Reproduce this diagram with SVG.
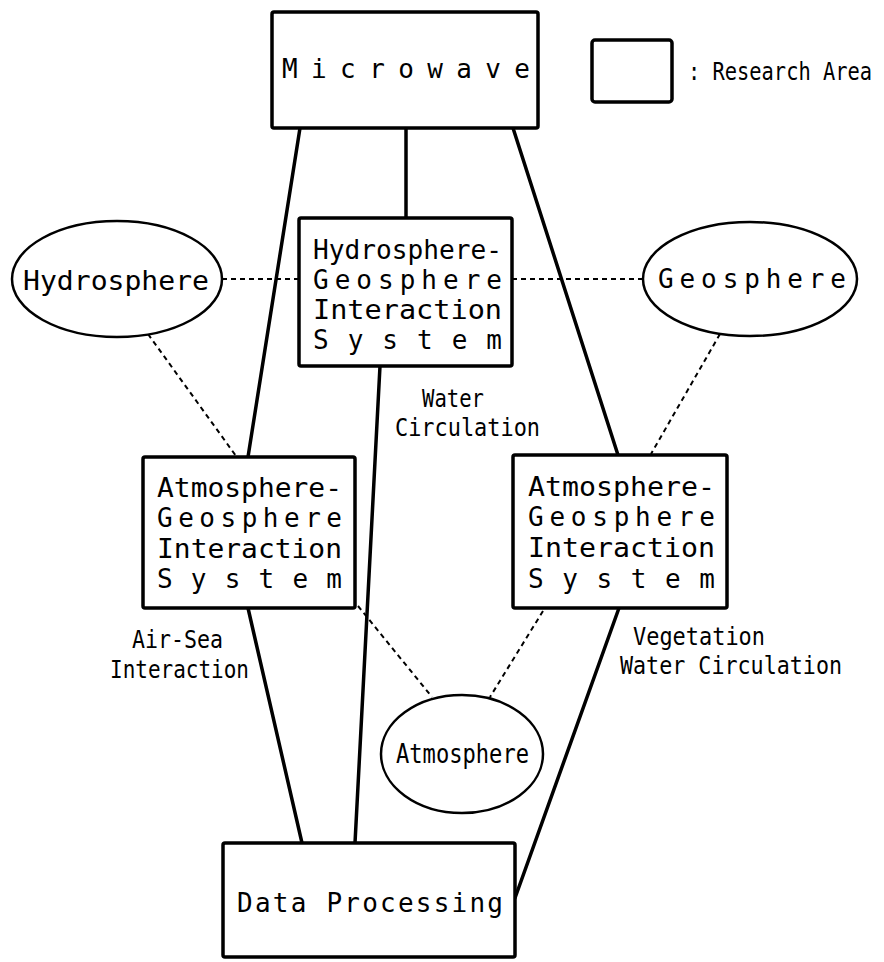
<svg xmlns="http://www.w3.org/2000/svg" width="884" height="962" viewBox="0 0 884 962">
<style>
.box{fill:#fff;stroke:#000;stroke-width:3.5;stroke-linejoin:round}
.ell{fill:#fff;stroke:#000;stroke-width:2.5}
.solid{stroke:#000;stroke-width:3.5;fill:none;stroke-linecap:round}
.dot{stroke:#000;stroke-width:2;fill:none;stroke-dasharray:5 4}
text{font-family:"DejaVu Sans Mono","Liberation Mono",monospace;font-size:26px;fill:#000}
.lbl{font-size:25px}
</style>
<rect width="884" height="962" fill="#fff"/>
<g id="connectors">
<line class="solid" x1="406" y1="128" x2="406" y2="218"/>
<line class="solid" x1="300" y1="128" x2="248" y2="457"/>
<line class="solid" x1="513" y1="128" x2="618" y2="455"/>
<line class="solid" x1="380" y1="366" x2="355" y2="843"/>
<line class="solid" x1="248" y1="608" x2="302" y2="843"/>
<line class="solid" x1="619" y1="608" x2="515" y2="898"/>
<line class="dot" x1="222" y1="279" x2="299" y2="279"/>
<line class="dot" x1="512" y1="279" x2="643" y2="279"/>
<line class="dot" x1="148" y1="334" x2="236" y2="456"/>
<line class="dot" x1="720" y1="334" x2="651" y2="454"/>
<line class="dot" x1="358" y1="606" x2="432" y2="697"/>
<line class="dot" x1="543" y1="611" x2="490" y2="697"/>
</g>
<g id="microwave">
<rect class="box" x="272" y="12" width="266" height="116" rx="2"/>
<text x="282" y="78" textLength="248" lengthAdjust="spacing">Microwave</text>
</g>
<g id="legend">
<rect class="box" x="592" y="40" width="80" height="62" rx="3"/>
<text class="lbl" x="688" y="80" textLength="184" lengthAdjust="spacingAndGlyphs">: Research Area</text>
</g>
<g id="hydrosphere">
<ellipse class="ell" cx="117" cy="279" rx="105" ry="58"/>
<text x="23" y="290" textLength="186" lengthAdjust="spacingAndGlyphs">Hydrosphere</text>
</g>
<g id="geosphere">
<ellipse class="ell" cx="750" cy="279" rx="107" ry="57"/>
<text x="658" y="288" textLength="188" lengthAdjust="spacing">Geosphere</text>
</g>
<g id="hg-system">
<rect class="box" x="299" y="218" width="213" height="148" rx="2"/>
<text x="313" y="259" textLength="189" lengthAdjust="spacingAndGlyphs">Hydrosphere-</text>
<text x="313" y="289" textLength="189" lengthAdjust="spacing">Geosphere</text>
<text x="313" y="319" textLength="189" lengthAdjust="spacingAndGlyphs">Interaction</text>
<text x="313" y="349" textLength="189" lengthAdjust="spacing">System</text>
</g>
<g id="water-circulation-label">
<text class="lbl" x="422" y="407" textLength="62" lengthAdjust="spacingAndGlyphs">Water</text>
<text class="lbl" x="395" y="436" textLength="145" lengthAdjust="spacingAndGlyphs">Circulation</text>
</g>
<g id="ag-system-left">
<rect class="box" x="143" y="457" width="212" height="151" rx="2"/>
<text x="157" y="497" textLength="185" lengthAdjust="spacingAndGlyphs">Atmosphere-</text>
<text x="157" y="527" textLength="185" lengthAdjust="spacing">Geosphere</text>
<text x="157" y="558" textLength="185" lengthAdjust="spacingAndGlyphs">Interaction</text>
<text x="157" y="588" textLength="185" lengthAdjust="spacing">System</text>
</g>
<g id="ag-system-right">
<rect class="box" x="513" y="455" width="214" height="153" rx="2"/>
<text x="528" y="496" textLength="187" lengthAdjust="spacingAndGlyphs">Atmosphere-</text>
<text x="528" y="526" textLength="187" lengthAdjust="spacing">Geosphere</text>
<text x="528" y="557" textLength="187" lengthAdjust="spacingAndGlyphs">Interaction</text>
<text x="528" y="588" textLength="187" lengthAdjust="spacing">System</text>
</g>
<g id="air-sea-label">
<text class="lbl" x="132" y="648" textLength="91" lengthAdjust="spacingAndGlyphs">Air-Sea</text>
<text class="lbl" x="110" y="678" textLength="139" lengthAdjust="spacingAndGlyphs">Interaction</text>
</g>
<g id="vegetation-label">
<text class="lbl" x="633" y="645" textLength="132" lengthAdjust="spacingAndGlyphs">Vegetation</text>
<text class="lbl" x="620" y="674" textLength="222" lengthAdjust="spacingAndGlyphs">Water Circulation</text>
</g>
<g id="atmosphere">
<ellipse class="ell" cx="462" cy="754" rx="81" ry="59"/>
<text x="396" y="763" textLength="133" lengthAdjust="spacingAndGlyphs">Atmosphere</text>
</g>
<g id="data-processing">
<rect class="box" x="223" y="843" width="292" height="114" rx="2"/>
<text x="237" y="912" textLength="266" lengthAdjust="spacing">Data Processing</text>
</g>
</svg>
